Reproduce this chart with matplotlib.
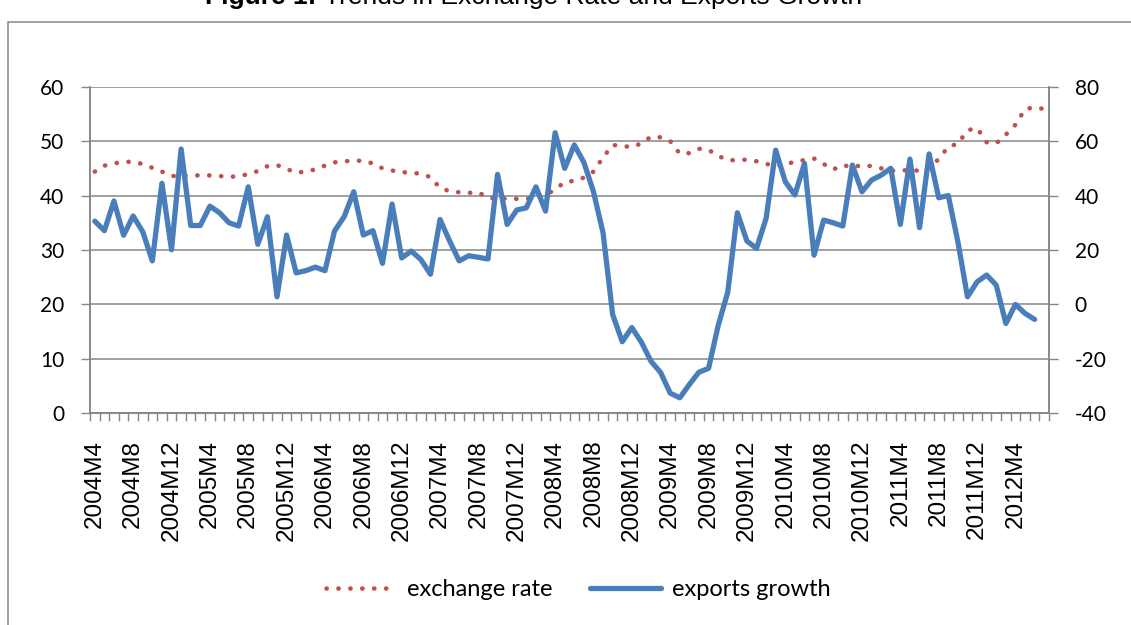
import numpy as np
import matplotlib
matplotlib.use("Agg")
import matplotlib.pyplot as plt
from matplotlib.patches import Rectangle

plt.rcParams["axes.unicode_minus"] = False

# monthly categories 2004M4 .. 2012M7
MONTHS = [f"{y}M{m}" for y in range(2004, 2013) for m in range(1, 13)]
MONTHS = MONTHS[MONTHS.index("2004M4"):MONTHS.index("2012M7") + 1]

# left axis: exchange rate
EXCHANGE_RATE = [
    44.4, 45.5, 45.9, 46.2, 46.2, 45.8, 45.1, 44.4, 43.6, 43.6,
    43.7, 43.7, 43.7, 43.6, 43.4, 43.6, 43.9, 44.5, 45.4, 45.6,
    44.9, 44.2, 44.4, 44.8, 45.5, 46.1, 46.3, 46.4, 46.4, 45.9,
    45.0, 44.6, 44.3, 44.2, 44.0, 43.4, 41.4, 40.8, 40.6, 40.5,
    40.6, 39.6, 39.5, 39.4, 39.4, 39.4, 39.7, 40.1, 41.1, 42.5,
    42.7, 43.3, 44.4, 47.0, 49.3, 49.1, 48.9, 49.6, 50.8, 50.7,
    50.0, 47.7, 47.8, 48.6, 48.4, 47.3, 46.5, 46.5, 46.6, 46.3,
    45.8, 45.5, 45.6, 46.3, 46.5, 46.8, 45.8, 44.8, 45.6, 45.2,
    45.6, 45.4, 45.0, 44.6, 44.5, 44.8, 44.5, 45.1, 46.7, 49.0,
    49.5, 52.0, 52.4, 49.8, 49.6, 51.2, 53.0, 55.9, 56.2, 55.9,
]

# right axis: exports growth (%)
EXPORTS_GROWTH = [
    30.6, 27.1, 38.0, 25.4, 32.5, 26.7, 16.0, 44.5, 20.1, 57.1,
    29.0, 29.0, 36.1, 33.7, 30.0, 28.8, 43.2, 22.1, 32.2, 2.8,
    25.5, 11.6, 12.4, 13.7, 12.4, 27.0, 32.2, 41.4, 25.5, 27.1,
    15.1, 36.9, 17.1, 19.6, 16.5, 11.1, 31.2, 23.3, 16.0, 17.9,
    17.3, 16.7, 47.8, 29.4, 34.7, 35.5, 43.2, 34.3, 63.1, 50.0,
    58.6, 52.2, 41.4, 26.3, -3.7, -13.7, -8.5, -13.9, -20.9, -25.0,
    -32.6, -34.3, -29.4, -24.9, -23.5, -7.8, 4.5, 33.7, 23.3, 20.6,
    31.6, 56.7, 45.1, 40.2, 51.8, 18.1, 31.0, 30.0, 28.8, 51.2,
    41.4, 45.7, 47.5, 50.0, 29.4, 53.4, 28.2, 55.3, 39.2, 40.0,
    23.0, 2.8, 8.3, 10.8, 7.1, -7.0, 0.0, -3.3, -5.5,
]

LEFT_TICKS = [0, 10, 20, 30, 40, 50, 60]
RIGHT_TICKS = [-40, -20, 0, 20, 40, 60, 80]

GREY = "#868686"
RED = "#C0504D"
BLUE = "#4A7EBB"
NUM_FONT = ["Lato", "DejaVu Sans"]
LAB_FONT = ["Liberation Sans", "DejaVu Sans"]

fig = plt.figure(figsize=(11.31, 6.25), dpi=100)
W, H = 1131, 625
ax = fig.add_axes([90 / W, 1 - 413.3 / H, (1049 - 90) / W, (413.3 - 86.7) / H])
ax2 = ax.twinx()

x_ex = np.arange(len(EXCHANGE_RATE))
x_gr = np.arange(len(EXPORTS_GROWTH))

ln1, = ax.plot(x_ex, EXCHANGE_RATE, color=RED, lw=3.3,
               linestyle=(0, (0.05, 2.55)), dash_capstyle="round",
               label="exchange rate")
ln2, = ax2.plot(x_gr, EXPORTS_GROWTH, color=BLUE, lw=3.8,
                solid_joinstyle="round", solid_capstyle="round",
                label="exports growth")

ax.set_xlim(-0.5, len(MONTHS) - 0.5)
ax.set_ylim(0, 60)
ax2.set_ylim(-40, 80)
ax.set_yticks(LEFT_TICKS)
ax2.set_yticks(RIGHT_TICKS)

# category labels every 4 months, tick marks between categories
ax.set_xticks(np.arange(0, len(MONTHS), 4))
ax.set_xticklabels(MONTHS[::4], rotation=90, family=LAB_FONT, fontsize=17.5)
ax.set_xticks(np.arange(-0.5, len(MONTHS), 1), minor=True)
ax.tick_params(axis="x", which="major", length=0, pad=19)
ax.tick_params(axis="x", which="minor", length=6, width=1, color=GREY,
               direction="out")

ax.tick_params(axis="y", length=6.5, width=1, color=GREY, pad=12,
               labelsize=15)
ax2.tick_params(axis="y", length=6.5, width=1, color=GREY, pad=12,
                labelsize=15)
for t in ax.get_yticklabels() + ax2.get_yticklabels():
    t.set_family(NUM_FONT)

ax.grid(axis="y", color=GREY, lw=1.1)
ax.set_axisbelow(True)
for a in (ax, ax2):
    a.spines["top"].set_visible(False)
    for s in ("left", "right", "bottom"):
        a.spines[s].set_color(GREY)
        a.spines[s].set_linewidth(1.1)

leg = fig.legend([ln1, ln2], ["exchange rate", "exports growth"],
                 loc="center", bbox_to_anchor=(578 / W, 1 - 590 / H),
                 ncol=2, frameon=False, handlelength=3.0, columnspacing=1.6,
                 handletextpad=0.45, prop={"family": NUM_FONT, "size": 17})

# chart-area border (runs off right/bottom edge)
fig.patches.append(Rectangle((8 / W, -0.1), 1.2, 1 - 22 / H + 0.1,
                             transform=fig.transFigure, fill=False,
                             edgecolor=GREY, lw=1.1))

# title, cut off at the top of the picture as in the source
fig.text(205 / W, 1 - 4 / H, "Figure 1:", family=LAB_FONT, fontsize=19,
         fontweight="bold", va="baseline", ha="left")
fig.text(324 / W, 1 - 4 / H, "Trends in Exchange Rate and Exports Growth",
         family=LAB_FONT, fontsize=19, va="baseline", ha="left")

fig.savefig("out.png", dpi=100)
